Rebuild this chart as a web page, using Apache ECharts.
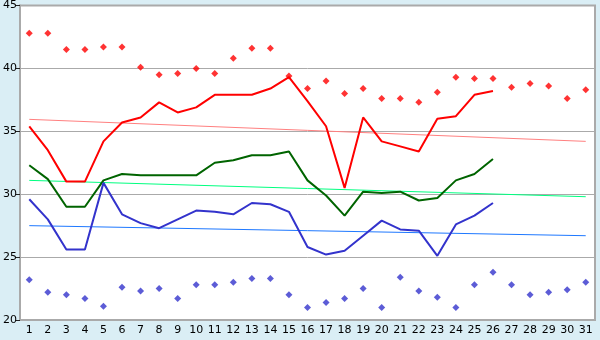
<!DOCTYPE html>
<html>
<head>
<meta charset="utf-8">
<script src="https://cdn.jsdelivr.net/npm/echarts@6/dist/echarts.min.js"></script>
<style>
  html, body { margin: 0; padding: 0; background: #daeef5; }
  #chart { width: 600px; height: 340px; }
</style>
</head>
<body>
<div id="chart"></div>
<script>
const days = Array.from({ length: 31 }, (_, i) => String(i + 1))

const maxPoints = [42.8, 42.8, 41.5, 41.5, 41.7, 41.7, 40.1, 39.5, 39.6, 40.0, 39.6, 40.8, 41.6, 41.6, 39.4,
  38.4, 39.0, 38.0, 38.4, 37.6, 37.6, 37.3, 38.1, 39.3, 39.2, 39.2, 38.5, 38.8, 38.6, 37.6, 38.3]
const minPoints = [23.2, 22.2, 22.0, 21.7, 21.1, 22.6, 22.3, 22.5, 21.7, 22.8, 22.8, 23.0, 23.3, 23.3, 22.0,
  21.0, 21.4, 21.7, 22.5, 21.0, 23.4, 22.3, 21.8, 21.0, 22.8, 23.8, 22.8, 22.0, 22.2, 22.4, 23.0]
const redLine = [35.4, 33.5, 31.0, 31.0, 34.2, 35.7, 36.1, 37.3, 36.5, 36.9, 37.9, 37.9, 37.9, 38.4, 39.3,
  37.4, 35.4, 30.5, 36.1, 34.2, 33.8, 33.4, 36.0, 36.2, 37.9, 38.2]
const greenLine = [32.3, 31.2, 29.0, 29.0, 31.1, 31.6, 31.5, 31.5, 31.5, 31.5, 32.5, 32.7, 33.1, 33.1, 33.4,
  31.1, 29.9, 28.3, 30.2, 30.1, 30.2, 29.5, 29.7, 31.1, 31.6, 32.8]
const blueLine = [29.6, 28.0, 25.6, 25.6, 30.9, 28.4, 27.7, 27.3, 28.0, 28.7, 28.6, 28.4, 29.3, 29.2, 28.6,
  25.8, 25.2, 25.5, 26.7, 27.9, 27.2, 27.1, 25.1, 27.6, 28.3, 29.3]
// trend lines: start (day 1) and end (day 31) values
const redTrend = [35.95, 34.2]
const greenTrend = [31.1, 29.8]
const blueTrend = [27.5, 26.7]

const trendData = (t) => days.map((d, i) => (i === 0 ? t[0] : i === days.length - 1 ? t[1] : null))

const chart = echarts.init(document.getElementById('chart'))

const lineSeries = (data, color, width, z) => ({
  type: 'line',
  data: data,
  symbol: 'none',
  connectNulls: true,
  z: z,
  lineStyle: { color: color, width: width },
  itemStyle: { color: color },
  animation: false
})

const pointSeries = (data, color) => ({
  type: 'scatter',
  data: data,
  symbol: 'diamond',
  symbolSize: 7,
  z: 5,
  itemStyle: { color: color },
  animation: false
})

chart.setOption({
  backgroundColor: '#daeef5',
  animation: false,
  grid: {
    left: 20,
    right: 5,
    top: 5,
    bottom: 20,
    show: true,
    backgroundColor: '#ffffff',
    borderColor: '#aaaaaa',
    borderWidth: 2
  },
  xAxis: {
    type: 'category',
    data: days,
    boundaryGap: true,
    axisLine: { lineStyle: { color: '#aaaaaa', width: 2 } },
    axisTick: { alignWithLabel: true, length: 5, lineStyle: { color: '#222', width: 1 } },
    axisLabel: { color: '#000', fontSize: 11, fontFamily: 'DejaVu Sans', margin: 5 },
    splitLine: { show: false }
  },
  yAxis: {
    type: 'value',
    min: 20,
    max: 45,
    interval: 5,
    axisLine: { show: true, lineStyle: { color: '#aaaaaa', width: 2 } },
    axisTick: { show: true, length: 4, lineStyle: { color: '#222' } },
    axisLabel: { color: '#000', fontSize: 11, fontFamily: 'DejaVu Sans', margin: 3 },
    splitLine: { lineStyle: { color: '#aaaaaa', width: 1 } }
  },
  series: [
    lineSeries(trendData(redTrend), '#ff8080', 1, 1),
    lineSeries(trendData(greenTrend), '#00ff80', 1, 1),
    lineSeries(trendData(blueTrend), '#1e78ff', 1, 1),
    lineSeries(redLine, '#ff0000', 2, 3),
    lineSeries(greenLine, '#006400', 2, 3),
    lineSeries(blueLine, '#3333cc', 2, 3),
    pointSeries(maxPoints, '#ff0000'),
    pointSeries(minPoints, '#3333cc')
  ]
})
</script>
</body>
</html>
